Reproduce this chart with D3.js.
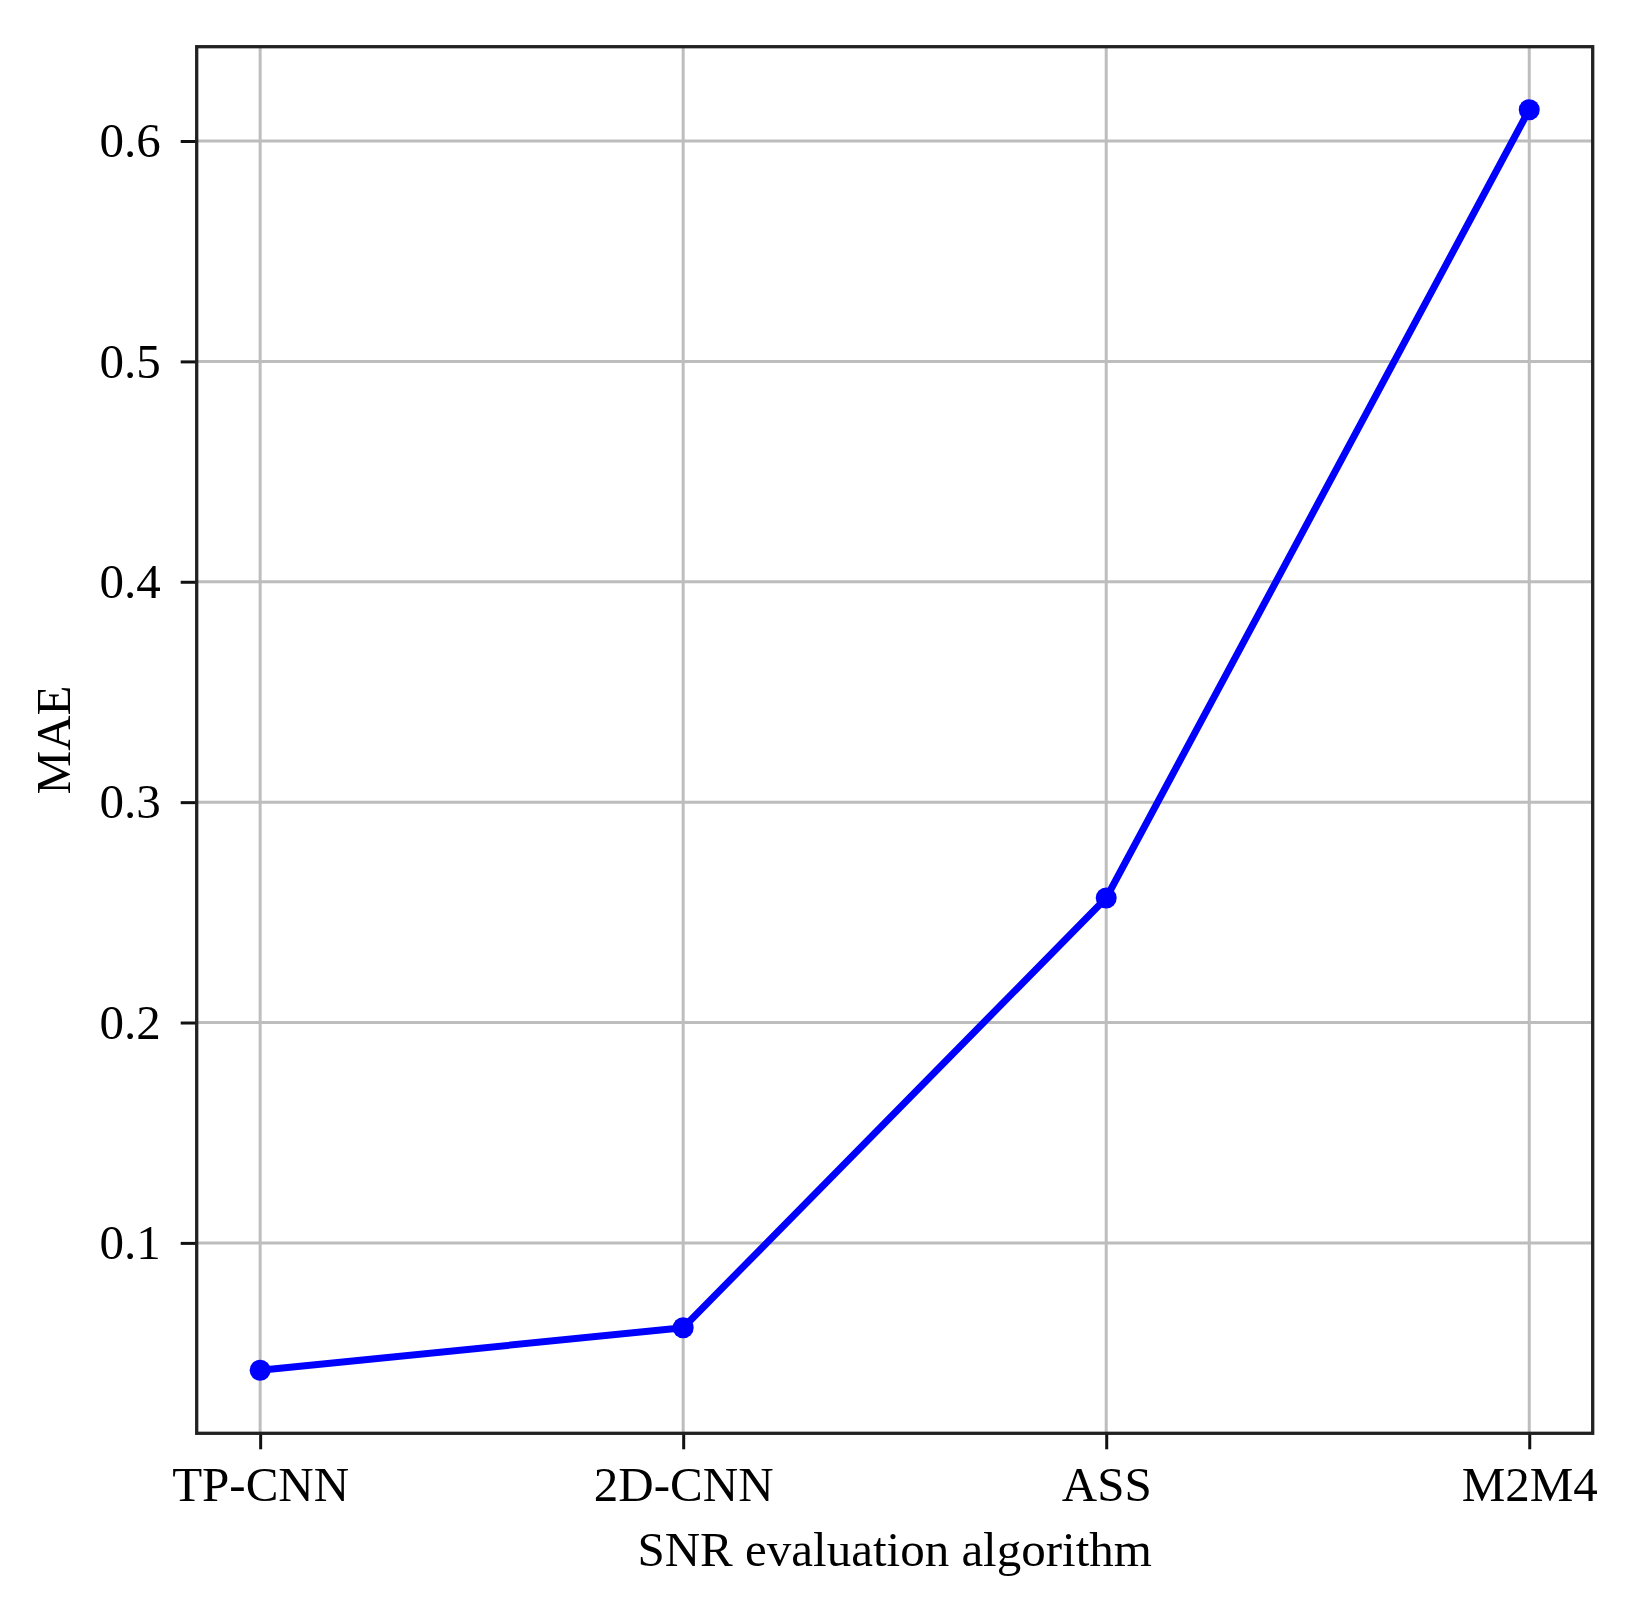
<!DOCTYPE html>
<html>
<head>
<meta charset="utf-8">
<script src="https://cdn.jsdelivr.net/npm/d3@7"></script>
<style>
  html, body { margin: 0; padding: 0; background: #fff; }
  svg { display: block; }
  text { font-family: "Liberation Serif", "Times New Roman", serif; fill: #000; }
</style>
</head>
<body>
<div id="chart"></div>
<script>
const categories = ["TP-CNN", "2D-CNN", "ASS", "M2M4"];
const maeValues = [0.0422, 0.0615, 0.2565, 0.6142];
const yTicks = [0.1, 0.2, 0.3, 0.4, 0.5, 0.6];
const xLabel = "SNR evaluation algorithm";
const yLabel = "MAE";

(function () {
const W = 1637, H = 1607;
const mLeft = 196.7, mRight = 1592.7, mTop = 46.7, mBottom = 1433.3;

const svg = d3.select("#chart").append("svg").attr("width", W).attr("height", H);

const idx = d3.range(categories.length);
const x = d3.scaleLinear().domain([-0.15, categories.length - 1 + 0.15]).range([mLeft, mRight]);
const ymin = d3.min(maeValues), ymax = d3.max(maeValues), pad = (ymax - ymin) * 0.05;
const y = d3.scaleLinear().domain([ymin - pad, ymax + pad]).range([mBottom, mTop]);

// grid
const grid = svg.append("g");
grid.selectAll("line.gx").data(idx).enter().append("line")
  .attr("x1", d => x(d)).attr("x2", d => x(d)).attr("y1", mTop).attr("y2", mBottom)
  .attr("stroke", "#bdbdbd").attr("stroke-width", 3);
grid.selectAll("line.gy").data(yTicks).enter().append("line")
  .attr("y1", d => y(d)).attr("y2", d => y(d)).attr("x1", mLeft).attr("x2", mRight)
  .attr("stroke", "#bdbdbd").attr("stroke-width", 3);

// axes
const xAxis = d3.axisBottom(x).tickValues(idx).tickFormat(i => categories[i]).tickSize(16).tickPadding(17);
const yAxis = d3.axisLeft(y).tickValues(yTicks).tickFormat(d3.format(".1f")).tickSize(16).tickPadding(20);

const gx = svg.append("g").attr("transform", `translate(0,${mBottom})`).call(xAxis);
const gy = svg.append("g").attr("transform", `translate(${mLeft},0)`).call(yAxis);
[gx, gy].forEach(g => {
  g.select(".domain").remove();
  g.selectAll(".tick line").attr("stroke", "#111").attr("stroke-width", 3);
  g.selectAll(".tick text").style("font-size", "49px").style("font-family", "'Liberation Serif', serif").attr("fill", "#000");
});

// frame
svg.append("rect").attr("x", mLeft).attr("y", mTop).attr("width", mRight - mLeft).attr("height", mBottom - mTop)
  .attr("fill", "none").attr("stroke", "#222").attr("stroke-width", 3.3);

// line
const line = d3.line().x((d, i) => x(i)).y(d => y(d));
svg.append("path").datum(maeValues).attr("d", line)
  .attr("fill", "none").attr("stroke", "#0000ff").attr("stroke-width", 7).attr("stroke-linejoin", "round");
svg.selectAll("circle.pt").data(maeValues).enter().append("circle")
  .attr("cx", (d, i) => x(i)).attr("cy", d => y(d)).attr("r", 10.5).attr("fill", "#0000ff");

// labels
svg.append("text").attr("x", (mLeft + mRight) / 2).attr("y", 1566).attr("text-anchor", "middle")
  .style("font-size", "49px").text(xLabel);
svg.append("text").attr("transform", `translate(70,${(mTop + mBottom) / 2}) rotate(-90)`).attr("text-anchor", "middle")
  .style("font-size", "49px").text(yLabel);
})();
</script>
</body>
</html>
